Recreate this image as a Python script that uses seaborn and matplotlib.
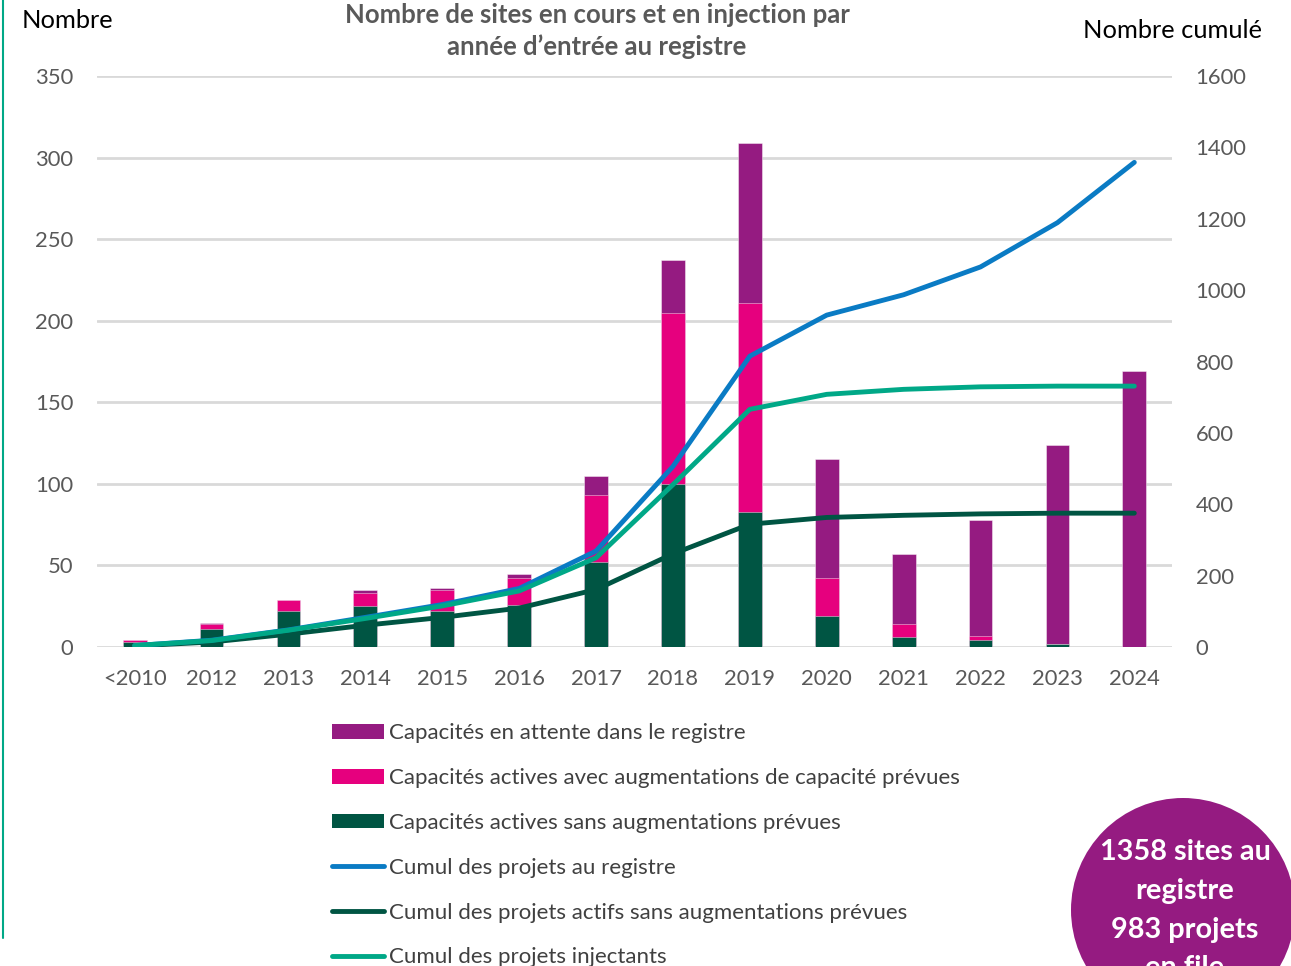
import numpy as np
import pandas as pd
import matplotlib.pyplot as plt
import seaborn as sns
from matplotlib.patches import Patch, Circle
from matplotlib.lines import Line2D

# ─────────────────────────────────────
# DATA
# ─────────────────────────────────────
years = ['<2010', '2012', '2013', '2014', '2015', '2016', '2017',
         '2018', '2019', '2020', '2021', '2022', '2023', '2024']
actives_sans_aug = [3, 11, 22, 25, 22, 26, 52, 100, 83, 19, 6, 4, 2, 0]
actives_avec_aug = [1, 3, 7, 8, 13, 16, 41, 105, 128, 23, 8, 3, 0, 0]
en_attente = [0, 1, 0, 2, 1, 3, 12, 32, 98, 73, 43, 71, 122, 169]

cumul_registre = [4, 19, 48, 83, 119, 164, 269, 506, 815, 930, 987, 1065, 1189, 1358]
cumul_actifs = [3, 14, 36, 61, 83, 109, 161, 261, 344, 363, 369, 373, 375, 375]
cumul_injectants = [4, 18, 47, 80, 115, 157, 250, 455, 666, 708, 722, 729, 731, 731]

left_ticks = [0, 50, 100, 150, 200, 250, 300, 350]
right_ticks = [0, 200, 400, 600, 800, 1000, 1200, 1400, 1600]

C_ATTENTE = '#951B81'
C_AVEC = '#E6007E'
C_SANS = '#005543'
C_BLUE = '#0A7BC4'
C_TEAL = '#00A887'
GREY = '#595959'

df = pd.DataFrame({'Annee': years,
                   'sans': actives_sans_aug,
                   'avec': actives_avec_aug,
                   'attente': en_attente})
df['actives'] = df['sans'] + df['avec']
df['total'] = df['actives'] + df['attente']
pos = np.arange(len(years))

# ─────────────────────────────────────
# FIGURE
# ─────────────────────────────────────
sns.set_theme(style='white')
plt.rcParams['font.family'] = ['Lato', 'DejaVu Sans']

fig = plt.figure(figsize=(12.91, 9.66), dpi=100)
ax = fig.add_axes([97 / 1291, 1 - 647 / 966, (1172 - 97) / 1291, (647 - 76) / 966])

# stacked bars drawn as overlapping totals
for col, color in [('total', C_ATTENTE), ('actives', C_AVEC), ('sans', C_SANS)]:
    sns.barplot(data=df, x='Annee', y=col, color=color, width=0.31,
                saturation=1, edgecolor=(1, 1, 1, 0.5), linewidth=0.6,
                ax=ax, zorder=2)

ax.set_ylim(0, 350)
ax.set_yticks(left_ticks)
ax.grid(axis='y', color='#D9D9D9', linewidth=2, zorder=0)
ax.grid(axis='x', visible=False)
ax.set_axisbelow(True)
for s in ax.spines.values():
    s.set_visible(False)
ax.set_xlabel('')
ax.set_ylabel('')
ax.tick_params(axis='both', length=0, labelsize=15.8, labelcolor=GREY)
ax.tick_params(axis='y', pad=17)
ax.tick_params(axis='x', pad=16)

# cumulative lines on right axis
ax2 = ax.twinx()
sns.lineplot(x=pos, y=cumul_actifs, color=C_SANS, linewidth=3.5,
             solid_capstyle='round', ax=ax2)
sns.lineplot(x=pos, y=cumul_registre, color=C_BLUE, linewidth=3.5,
             solid_capstyle='round', ax=ax2)
sns.lineplot(x=pos, y=cumul_injectants, color=C_TEAL, linewidth=3.5,
             solid_capstyle='round', ax=ax2)
ax2.set_ylim(0, 1600)
ax2.set_yticks(right_ticks)
ax2.grid(False)
for s in ax2.spines.values():
    s.set_visible(False)
ax2.tick_params(axis='y', length=0, labelsize=15.8, labelcolor=GREY, pad=17)
ax.set_xlim(-0.49, len(years) - 0.51)

# titles
fig.text(597 / 1291, 1 - 31 / 966,
         'Nombre de sites en cours et en injection par\nannée d\u2019entrée au registre',
         ha='center', va='center', fontsize=18.5, fontweight='bold', color=GREY,
         linespacing=1.37)
fig.text(22 / 1291, 1 - 21 / 966, 'Nombre', ha='left', va='center',
         fontsize=18.3, color='black')
fig.text(1262 / 1291, 1 - 30 / 966, 'Nombre cumulé', ha='right', va='center',
         fontsize=18.3, color='black')

# legend
handles = [
    Patch(facecolor=C_ATTENTE, edgecolor='none'),
    Patch(facecolor=C_AVEC, edgecolor='none'),
    Patch(facecolor=C_SANS, edgecolor='none'),
    Line2D([], [], color=C_BLUE, linewidth=3.5, solid_capstyle='round'),
    Line2D([], [], color=C_SANS, linewidth=3.5, solid_capstyle='round'),
    Line2D([], [], color=C_TEAL, linewidth=3.5, solid_capstyle='round'),
]
labels = ['Capacités en attente dans le registre',
          'Capacités actives avec augmentations de capacité prévues',
          'Capacités actives sans augmentations prévues',
          'Cumul des projets au registre',
          'Cumul des projets actifs sans augmentations prévues',
          'Cumul des projets injectants']
fig.legend(handles, labels, loc='upper left',
           bbox_to_anchor=(332 / 1291, 1 - 723 / 966),
           frameon=False, fontsize=16, labelcolor='#404040',
           handlelength=2.35, handleheight=0.65, handletextpad=0.22,
           labelspacing=1.12, borderpad=0, borderaxespad=0)

# left decorative line
fig.add_artist(Line2D([3 / 1291, 3 / 1291], [1 - 938 / 966, 1.0],
                      transform=fig.transFigure, color=C_TEAL, linewidth=1.5))

# purple badge (drawn in inches so it stays round)
badge = Circle((1183 / 100, (966 - 910) / 100), 1.12,
               transform=fig.dpi_scale_trans, facecolor=C_ATTENTE,
               edgecolor='none')
fig.add_artist(badge)
fig.text(1185 / 1291, 1 - 839 / 966,
         '1358 sites au\nregistre\n983 projets\nen file',
         ha='center', va='top', fontsize=20.8, fontweight='bold',
         color='white', linespacing=1.61)

fig.savefig('out.png', dpi=100)
plt.close(fig)
